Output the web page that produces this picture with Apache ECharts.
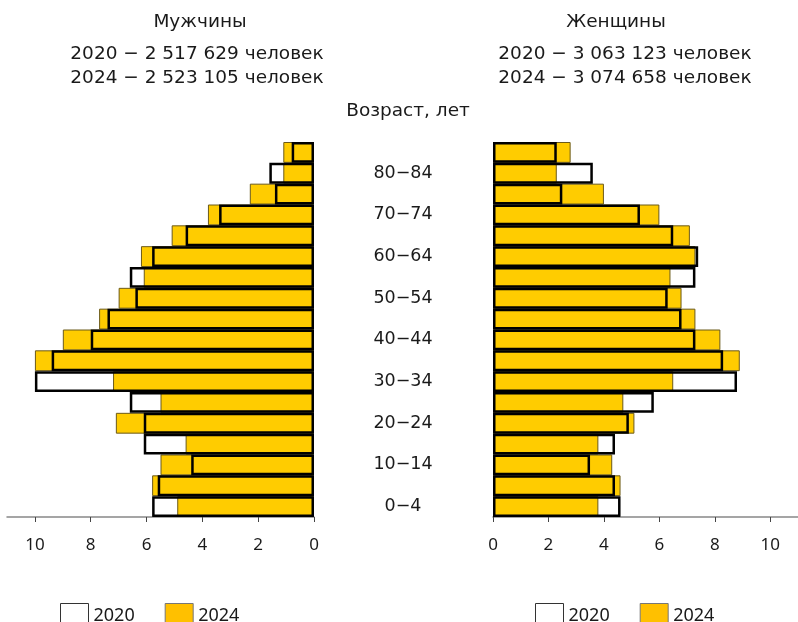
<!DOCTYPE html>
<html><head><meta charset="utf-8">
<script src="https://cdn.jsdelivr.net/npm/echarts@6/dist/echarts.min.js"></script>
<style>html,body{margin:0;padding:0;background:#fff}#c{width:798px;height:622px}</style>
</head><body><div id="c"></div>
<script>
const ageGroups = ['0−4','5−9','10−14','15−19','20−24','25−29','30−34','35−39','40−44','45−49','50−54','55−59','60−64','65−69','70−74','75−79','80−84','85+'];
const men2020   = [5.8,5.6,4.4,6.1,6.1,6.6,10.0,9.4,8.0,7.4,6.4,6.6,5.8,4.6,3.4,1.4,1.6,0.8];
const men2024   = [4.9,5.8,5.5,4.6,7.1,5.5,7.2,10.0,9.0,7.7,7.0,6.1,6.2,5.1,3.8,2.3,1.1,1.1];
const women2020 = [4.6,4.4,3.5,4.4,4.9,5.8,8.8,8.3,7.3,6.8,6.3,7.3,7.4,6.5,5.3,2.5,3.6,2.3];
const women2024 = [3.8,4.6,4.3,3.8,5.1,4.7,6.5,8.9,8.2,7.3,6.8,6.4,7.3,7.1,6.0,4.0,2.3,2.8];
const xTicks = [0,2,4,6,8,10];

const FONT = 'Noto Sans';
const FONT2 = 'DejaVu Sans';
const TXT = '#1a1a1a';
const YELLOW = '#ffcc00';

function xAxisCfg(idx, inverse){
  return {
    type:'value', gridIndex: idx, min:0, max:11, inverse: inverse,
    splitLine:{show:false},
    axisLine:{show:true, lineStyle:{color:'#888', width:1.5}},
    axisTick:{show:true, length:5, inside:false, lineStyle:{color:'#444'}, customValues: xTicks},
    axisLabel:{customValues: xTicks, margin:20, fontSize:17, color:TXT, fontFamily:FONT}
  };
}
function yAxisCfg(idx, showLabels){
  return {
    type:'category', gridIndex: idx, data: ageGroups,
    axisLine:{show:false}, axisTick:{show:false}, splitLine:{show:false},
    axisLabel: showLabels ? {show:true, interval:1, align:'center', margin:90, fontSize:17.5, color:TXT, fontFamily:FONT2} : {show:false}
  };
}
function seriesFor(idx, d2020, d2024){
  return [
    {name:'2020bg', type:'bar', xAxisIndex:idx, yAxisIndex:idx, data:d2020, barGap:'-100%', barCategoryGap:'0%',
     itemStyle:{color:'#fff'}, silent:true, z:1},
    {name:'2024', type:'bar', xAxisIndex:idx, yAxisIndex:idx, data:d2024, barGap:'-100%', barCategoryGap:'0%',
     itemStyle:{color:YELLOW, borderColor:'#6b5a1a', borderWidth:1}, z:2},
    {name:'2020', type:'bar', xAxisIndex:idx, yAxisIndex:idx, data:d2020, barGap:'-100%', barCategoryGap:'0%',
     itemStyle:{color:'rgba(0,0,0,0)', borderColor:'#000', borderWidth:2.5}, z:3}
  ];
}
function legendCfg(left){
  return {
    left:left, top:603, padding:0, itemWidth:28, itemHeight:24, itemGap:30, orient:'horizontal',
    textStyle:{fontSize:18, color:TXT, fontFamily:FONT, padding:[0,0,0,0]},
    selectedMode:false,
    data:[
      {name:'2020', icon:'rect', itemStyle:{color:'#fff', borderColor:'#333', borderWidth:1}},
      {name:'2024', icon:'rect', itemStyle:{color:'#ffc000', borderColor:'#777', borderWidth:1}}
    ]
  };
}
const titleStyle = {fontSize:18.5, fontWeight:'normal', color:TXT, fontFamily:FONT2, lineHeight:24};
const chart = echarts.init(document.getElementById('c'), null, {renderer:'canvas'});
chart.setOption({
  animation:false,
  textStyle:{fontFamily:FONT},
  title:[
    {text:'Мужчины', left:195, top:5, textAlign:'center', textStyle:titleStyle},
    {text:'2020 − 2 517 629 человек\n2024 − 2 523 105 человек', left:192, top:37, textAlign:'center', textStyle:titleStyle},
    {text:'Женщины', left:611, top:5, textAlign:'center', textStyle:titleStyle},
    {text:'2020 − 3 063 123 человек\n2024 − 3 074 658 человек', left:620, top:37, textAlign:'center', textStyle:titleStyle},
    {text:'Возраст, лет', left:403, top:94, textAlign:'center', textStyle:titleStyle}
  ],
  legend:[legendCfg(60), legendCfg(535)],
  grid:[
    {left:7, top:142, width:307, height:375},
    {left:493, top:142, width:307, height:375}
  ],
  xAxis:[xAxisCfg(0,true), xAxisCfg(1,false)],
  yAxis:[yAxisCfg(0,false), yAxisCfg(1,true)],
  series:[...seriesFor(0, men2020, men2024), ...seriesFor(1, women2020, women2024)]
});
</script></body></html>
